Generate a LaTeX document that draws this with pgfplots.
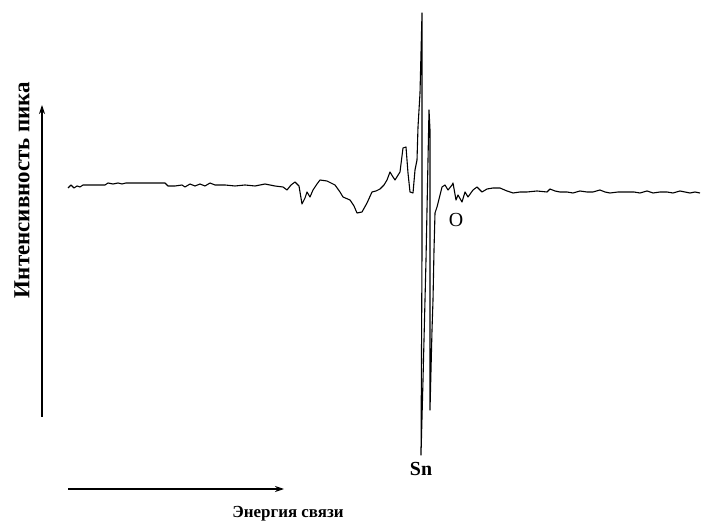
\documentclass[border=0pt]{standalone}
\usepackage{pgfplots}
\pgfplotsset{compat=1.18}
\usepackage{fontspec}
\setmainfont{Liberation Serif}
\usetikzlibrary{arrows.meta}
\begin{document}
\begin{tikzpicture}
\begin{axis}[
  scale only axis, width=701bp, height=528bp,
  xmin=0, xmax=701, ymin=-528, ymax=0,
  hide axis, clip=false,
]
\addplot[draw=none] coordinates {(0,0) (701,-528)};
% spectrum (pixel coordinates, y negated)
\addplot[black, line width=1.1pt, line join=round] coordinates {
(68,-188) (71,-185) (74,-188) (77,-186) (80,-187) (83,-185) (105,-185) (108,-183) (113,-184) (118,-183) (122,-184) (126,-183) (130,-183) (165,-183) (168,-186) (175,-186) (182,-185) (185,-187) (190,-184) (195,-186) (200,-184) (205,-186) (210,-183) (215,-185) (225,-185) (235,-186) (245,-185) (255,-186) (265,-184) (275,-186) (283,-187) (287,-190) (291,-185) (295,-182) (299,-186) (302,-204) (305,-198) (307,-192) (310,-197) (313,-190) (317,-184) (320,-180) (327,-181) (335,-185) (340,-192) (343,-197) (350,-200) (354,-206) (357,-213) (362,-212) (367,-203) (372,-192) (376,-191) (380,-189) (384,-185) (387,-180) (390,-172) (393,-177) (395,-180) (400,-172) (403,-148) (406,-147) (408,-173) (410,-192) (413,-193) (415,-170) (417,-160) (418,-127) (420,-93) (421,-53) (422,-13) (422,-250) (421,-455) (423,-380) (426,-260) (428,-160) (429,-110) (430,-130) (430,-410) (432,-330) (433,-300) (434,-250) (435,-213) (437,-207) (440,-195) (442,-187) (445,-185) (448,-190) (452,-185) (453,-183) (456,-200) (458,-195) (462,-202) (465,-192) (468,-197) (473,-190) (477,-187) (482,-192) (487,-189) (493,-188) (500,-188) (507,-191) (513,-193) (520,-192) (527,-192) (537,-191) (547,-192) (550,-189) (555,-191) (560,-192) (567,-192) (573,-193) (580,-191) (587,-192) (593,-192) (600,-190) (605,-192) (610,-193) (618,-192) (627,-192) (634,-192) (640,-193) (647,-191) (653,-193) (660,-192) (667,-192) (673,-193) (680,-191) (685,-192) (690,-193) (695,-192) (700,-193)
};
% axis arrows
\addplot[black, line width=1.2pt, -{Stealth[length=9pt,width=6pt]}] coordinates {(42,-417) (42,-105)};
\addplot[black, line width=1.2pt, -{Stealth[length=9pt,width=6pt]}] coordinates {(68,-489) (284,-489)};
% labels
\node[rotate=90, font=\bfseries\fontsize{23}{26}\selectfont] at (axis cs:22,-190) {Интенсивность пика};
\node[font=\bfseries\fontsize{17}{20}\selectfont] at (axis cs:288,-514) {Энергия связи};
\node[font=\bfseries\fontsize{20}{22}\selectfont] at (axis cs:421,-469) {Sn};
\node[font=\fontsize{20}{22}\selectfont] at (axis cs:456,-220) {O};
\end{axis}
\end{tikzpicture}
\end{document}
